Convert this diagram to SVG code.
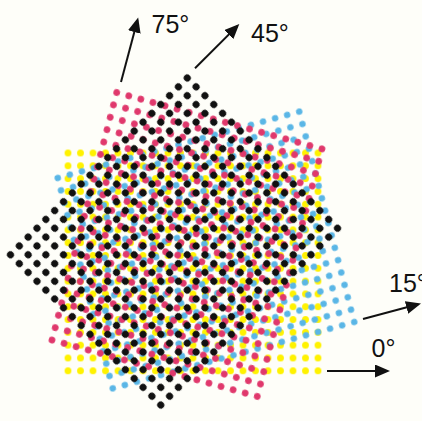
<svg xmlns="http://www.w3.org/2000/svg" width="422" height="421" viewBox="0 0 422 421">
  <defs>
    <style>
      .lbl { font-family: "Liberation Sans", Arial, sans-serif; font-size: 25px; fill: #111; }
      .arr { stroke: #111; stroke-width: 2; fill: none; marker-end: url(#head); }
      .grid { stroke: none; }
    </style>
    <pattern id="pY" patternUnits="userSpaceOnUse" x="-6.25" y="0" width="12.5" height="12.5">
      <circle cx="6.25" cy="6.25" r="3.4" fill="#fff200"/>
    </pattern>
    <pattern id="pC" patternUnits="userSpaceOnUse" x="-6.25" y="0" width="12.5" height="12.5">
      <circle cx="6.25" cy="6.25" r="3.2" fill="#5ab6e6"/>
    </pattern>
    <pattern id="pM" patternUnits="userSpaceOnUse" x="-6.25" y="0" width="12.5" height="12.5">
      <circle cx="6.25" cy="6.25" r="3.3" fill="#e0386c"/>
    </pattern>
    <pattern id="pK" patternUnits="userSpaceOnUse" x="-6.25" y="0" width="12.5" height="12.5">
      <circle cx="6.25" cy="6.25" r="3.5" fill="#111111"/>
    </pattern>
    <marker id="head" markerUnits="userSpaceOnUse" markerWidth="16" markerHeight="14" refX="12" refY="6.5" orient="auto">
      <path d="M0,0 L15,6.5 L0,13 Z" fill="#111"/>
    </marker>
  </defs>
  <rect width="422" height="421" fill="#fefef9"/>
  <g id="screens">
    <g transform="scale(1,1.025)">
      <g id="yellow" transform="translate(193,255.5)">
        <rect class="grid" x="-131.25" y="-112.5" width="262.5" height="225" fill="url(#pY)"/>
      </g>
      <g id="cyan" transform="translate(206,243.9) rotate(-15)">
        <rect class="grid" x="-131.25" y="-112.5" width="262.5" height="225" fill="url(#pC)"/>
      </g>
      <g id="magenta" transform="translate(187,238.5) rotate(-75)">
        <rect class="grid" x="-131.25" y="-112.5" width="262.5" height="225" fill="url(#pM)"/>
      </g>
    </g>
    <g id="black" transform="translate(174,241.5) rotate(-45)">
      <rect class="grid" x="-131.25" y="-112.5" width="262.5" height="225" fill="url(#pK)"/>
    </g>
  </g>
  <g id="connectors">
    <line class="arr" x1="121" y1="82" x2="137.4" y2="20.4"/>
    <line class="arr" x1="195" y1="68.3" x2="237.2" y2="26.1"/>
    <line class="arr" x1="363" y1="319" x2="418.1" y2="304.3"/>
    <line class="arr" x1="327" y1="371" x2="387" y2="371"/>
  </g>
  <g id="labels">
    <text class="lbl" x="151.5" y="32.5">75°</text>
    <text class="lbl" x="251" y="42.3">45°</text>
    <text class="lbl" x="389" y="291.7">15°</text>
    <text class="lbl" x="371.5" y="356.7">0°</text>
  </g>
</svg>
